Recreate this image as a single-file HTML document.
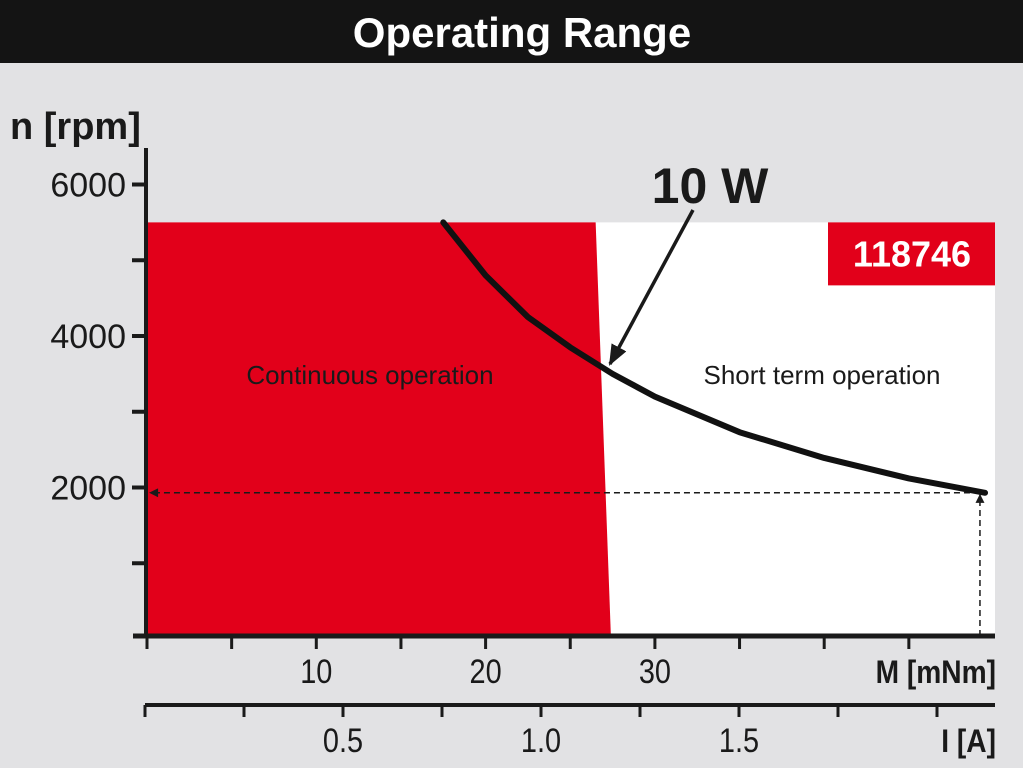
<!DOCTYPE html>
<html><head><meta charset="utf-8"><style>
html,body{margin:0;padding:0;background:#e2e2e4;}
svg{display:block;}
text{font-family:"Liberation Sans",sans-serif;}
</style></head><body>
<svg id="chart" width="1023" height="768" viewBox="0 0 1023 768">
<rect x="0" y="0" width="1023" height="768" fill="#e2e2e4"/>
<rect x="0" y="0" width="1023" height="63" fill="#141414"/>
<text x="522" y="47" text-anchor="middle" font-size="42" font-weight="bold" fill="#fff">Operating Range</text>
<text x="10" y="139" font-size="38" font-weight="bold" fill="#1a1a1a">n [rpm]</text>
<g id="plot"></g>
</svg>
<script>
const mTicks=[0,5,10,15,20,25,30,35,40,45];
const mLabels=[10,20,30];
const iTicks=[0,0.25,0.5,0.75,1.0,1.25,1.5,1.75,2.0];
const iLabels=["0.5","1.0","1.5"];
const nTicks=[1000,2000,3000,4000,5000,6000];
const nLabels=[2000,4000,6000];
const curveM=[17.5,20,22.5,25,27.5,30,35,40,45,49.5];
const curveN=[5500,4800,4250,3850,3500,3200,2730,2390,2120,1930];
const nMax=5500;
const contTopM=26.5, contBottomM=27.4;
const opM=49.2, opN=1930;

const X=m=>147+m*16.93;
const Y=n=>639-n*0.07575;
const XI=a=>145+a*396;
const NS="http://www.w3.org/2000/svg";
const g=document.getElementById('plot');
function mk(tag,attrs,parent){const e=document.createElementNS(NS,tag);for(const k in attrs)e.setAttribute(k,attrs[k]);(parent||g).appendChild(e);return e;}

let e;
e=mk('rect',{x:147,y:Y(nMax),width:995-147,height:636-Y(nMax),fill:'#fff'});


e=mk('polygon',{points:`147,${Y(nMax)} ${X(contTopM)},${Y(nMax)} ${X(contBottomM)},636 147,636`,fill:'#e2001a'});


e=mk('rect',{x:828,y:Y(nMax),width:995-828,height:63,fill:'#e2001a'});


e=mk('text',{x:912,y:Y(nMax)+44,'text-anchor':'middle','font-size':36,'font-weight':'bold',fill:'#fff'});
e.textContent='118746';


e=mk('text',{x:370,y:384,'text-anchor':'middle','font-size':26,fill:'#1a1a1a'});
e.textContent='Continuous operation';


e=mk('text',{x:822,y:384,'text-anchor':'middle','font-size':26,fill:'#1a1a1a'});
e.textContent='Short term operation';



// y axis
e=mk('line',{x1:146,y1:148,x2:146,y2:637,stroke:'#1a1a1a','stroke-width':4});


nTicks.forEach(n=>{const t=mk('line',{x1:132,y1:Y(n),x2:146,y2:Y(n),stroke:'#1a1a1a','stroke-width':4});

});
nLabels.forEach(n=>{const t=mk('text',{x:126,y:Y(n)+12,'text-anchor':'end','font-size':34,fill:'#1a1a1a'});t.textContent=n;

});

// M axis
e=mk('line',{x1:133,y1:636,x2:995,y2:636,stroke:'#1a1a1a','stroke-width':5});


mTicks.forEach(m=>{const t=mk('line',{x1:X(m),y1:636,x2:X(m),y2:649,stroke:'#1a1a1a','stroke-width':3});

});
mLabels.forEach(m=>{const t=mk('text',{x:X(m),y:683,'text-anchor':'middle','font-size':34,fill:'#1a1a1a',transform:`translate(${X(m)},0) scale(0.85,1) translate(${-X(m)},0)`});t.textContent=m;

});
e=mk('text',{x:996,y:683,'text-anchor':'end','font-size':32,'font-weight':'bold',fill:'#1a1a1a',transform:'translate(996,0) scale(0.88,1) translate(-996,0)'});e.textContent='M [mNm]';



// I axis
e=mk('line',{x1:145,y1:705,x2:995,y2:705,stroke:'#1a1a1a','stroke-width':4});


iTicks.forEach(a=>{const t=mk('line',{x1:XI(a),y1:705,x2:XI(a),y2:717,stroke:'#1a1a1a','stroke-width':3});

});
iLabels.forEach(a=>{const xx=XI(parseFloat(a));const t=mk('text',{x:xx,y:752,'text-anchor':'middle','font-size':34,fill:'#1a1a1a',transform:`translate(${xx},0) scale(0.85,1) translate(${-xx},0)`});t.textContent=a;

});
e=mk('text',{x:996,y:752,'text-anchor':'end','font-size':32,'font-weight':'bold',fill:'#1a1a1a',transform:'translate(996,0) scale(0.88,1) translate(-996,0)'});e.textContent='I [A]';



// defs arrows
const defs=mk('defs',{},document.getElementById('chart'));
const mkA=mk('marker',{id:'ar',viewBox:'0 0 10 10',refX:9,refY:5,markerWidth:6,markerHeight:6,orient:'auto-start-reverse',markerUnits:'strokeWidth'},defs);
mk('path',{d:'M0,1 L10,5 L0,9 z',fill:'#1a1a1a'},mkA);
const mkB=mk('marker',{id:'arS',viewBox:'0 0 10 10',refX:9,refY:5,markerWidth:12,markerHeight:9,orient:'auto',markerUnits:'userSpaceOnUse'},defs);
mk('path',{d:'M0,0 L10,5 L0,10 z',fill:'#1a1a1a'},mkB);

// dashed operating point lines
e=mk('line',{x1:X(opM),y1:Y(opN),x2:150,y2:Y(opN),stroke:'#1a1a1a','stroke-width':1.5,'stroke-dasharray':'6,4','marker-end':'url(#arS)'});


e=mk('line',{x1:X(opM),y1:636,x2:X(opM),y2:Y(opN)+2,stroke:'#1a1a1a','stroke-width':1.5,'stroke-dasharray':'6,4','marker-end':'url(#arS)'});



// curve
e=mk('polyline',{points:curveM.map((m,i)=>X(m)+','+Y(curveN[i])).join(' '),fill:'none',stroke:'#111','stroke-width':6,'stroke-linecap':'round','stroke-linejoin':'round'});



// 10 W label + arrow
e=mk('text',{x:710,y:203,'text-anchor':'middle','font-size':50,'font-weight':'bold',fill:'#1a1a1a'});e.textContent='10 W';


e=mk('line',{x1:693,y1:210,x2:610,y2:364,stroke:'#1a1a1a','stroke-width':3.5,'marker-end':'url(#ar)'});


</script>
</body></html>
